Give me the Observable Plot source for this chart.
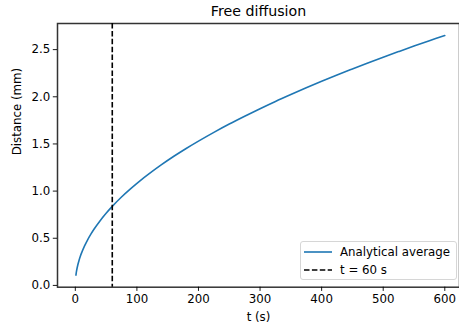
<!DOCTYPE html>
<html>
<head>
<meta charset="utf-8">
<script src="https://cdn.jsdelivr.net/npm/d3@7"></script>
<script src="https://cdn.jsdelivr.net/npm/@observablehq/plot@0.6"></script>
<style>
  html, body { margin: 0; padding: 0; background: #fff; overflow: hidden; }
  #wrap { position: relative; width: 459px; height: 330px; font-family: "DejaVu Sans", sans-serif; }
  #legend { position: absolute; left: 300px; top: 241px; width: 155px; height: 37px;
    border: 1px solid #d6d6d6; border-radius: 3px; background: rgba(255,255,255,0.8);
    font-size: 11.8px; color: #000; }
  #legend .row { position: absolute; left: 0; height: 16px; display: flex; align-items: center; }
  #legend svg { margin-left: 3px; margin-right: 8px; }
</style>
</head>
<body>
<div id="wrap"></div>
<script>
// Data
const times = [1, 2, 4, 6, 8, 10, 15, 20, 25, 30, 40, 50, 60, 75, 90, 105, 120, 140, 160, 180, 200,
  225, 250, 275, 300, 325, 350, 375, 400, 425, 450, 475, 500, 525, 550, 575, 600];
const distances = [0.108, 0.153, 0.216, 0.265, 0.306, 0.342, 0.419, 0.484, 0.541, 0.593, 0.684, 0.765, 0.838,
  0.937, 1.026, 1.109, 1.185, 1.280, 1.369, 1.452, 1.530, 1.623, 1.711, 1.794, 1.874, 1.951, 2.024, 2.095,
  2.164, 2.231, 2.295, 2.358, 2.419, 2.479, 2.538, 2.595, 2.650];
const markerTime = [60];
const xTicks = [0, 100, 200, 300, 400, 500, 600];
const yTicks = [0, 0.5, 1.0, 1.5, 2.0, 2.5];
const xDomain = [-28.95, 623.9];
const yDomain = [-0.019, 2.777];
const titleText = "Free diffusion";
const xLabel = "t (s)";
const yLabel = "Distance (mm)";
const seriesLabels = ["Analytical average", "t = 60 s"];
const colors = ["#1f77b4", "#000000"];

const data = times.map((t, i) => ({t, d: distances[i]}));

const chart = Plot.plot({
  width: 459,
  height: 330,
  marginLeft: 57,
  marginRight: 0,
  marginTop: 23,
  marginBottom: 43.3,
  style: {fontFamily: "DejaVu Sans, sans-serif", fontSize: "11.8px", color: "#000", background: "#fff"},
  x: {domain: xDomain},
  y: {domain: yDomain},
  marks: [
    Plot.frame({stroke: "#333", strokeWidth: 1.5}),
    Plot.axisX({ticks: xTicks, tickSize: 4.2, tickPadding: 3, tickFormat: d3.format("d"), label: null, strokeWidth: 0.9}),
    Plot.axisY({ticks: yTicks, tickSize: 4.2, tickPadding: 3, tickFormat: d3.format(".1f"), label: null, strokeWidth: 0.9}),
    Plot.line(data, {x: "t", y: "d", stroke: colors[0], strokeWidth: 1.6, curve: "catmull-rom"}),
    Plot.ruleX(markerTime, {stroke: colors[1], strokeWidth: 1.6, strokeDasharray: "5.5,2.4"}),
    Plot.text([titleText], {text: d => d, frameAnchor: "top", lineAnchor: "middle", dy: -12, fontSize: 14.2}),
    Plot.text([xLabel], {text: d => d, frameAnchor: "bottom", lineAnchor: "middle", dy: 30}),
    Plot.text([yLabel], {text: d => d, frameAnchor: "left", lineAnchor: "middle", dx: -40, rotate: -90})
  ]
});

const wrap = document.getElementById("wrap");
wrap.appendChild(chart);

const legend = document.createElement("div");
legend.id = "legend";
const dashes = ["none", "5.5,2.4"];
seriesLabels.forEach((lab, i) => {
  const row = document.createElement("div");
  row.className = "row";
  row.style.top = (2 + i * 18) + "px";
  row.innerHTML = `<svg width="28" height="10"><line x1="0" x2="28" y1="5" y2="5" stroke="${colors[i]}" stroke-width="1.6" stroke-dasharray="${dashes[i]}"/></svg><span>${lab}</span>`;
  legend.appendChild(row);
});
wrap.appendChild(legend);
</script>
</body>
</html>
